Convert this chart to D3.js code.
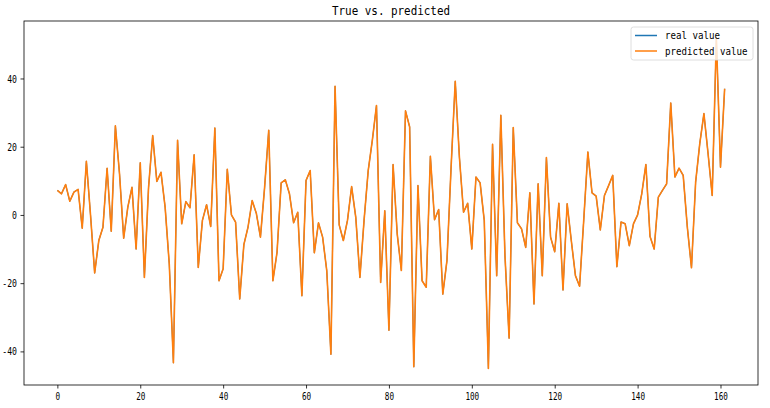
<!DOCTYPE html>
<html>
<head>
<meta charset="utf-8">
<script src="https://cdn.jsdelivr.net/npm/d3@7"></script>
<style>
body{margin:0;background:#fff;}
</style>
</head>
<body>
<div id="chart"></div>
<script>
// values, index 0..161
let readings = [
 7.2, 6.2, 8.9, 4.0, 6.7, 7.5, -3.9, 15.7, 0, -17,
 -7.5, -3.6, 13.7, -4.8, 26.1, 12, -6.8, 2.3, 8.1, -10,
 15.3, -18.3, 8, 23.3, 9.8, 12.5, 2.3, -14.4, -43.3, 21.9,
 -2.6, 3.9, 2.1, 17.6, -15.4, -1.6, 3.0, -3.4, 25.5, -19.3,
 -15.8, 13.4, 0, -2.1, -24.6, -8.7, -3.6, 4.2, 0.5, -6.5,
 8, 24.8, -19.3, -11, 9.4, 10.3, 6.2, -2.3, 0.8, -23.7,
 10.1, 13.0, -11.1, -2.3, -6.5, -16.3, -40.8, 37.7, -2.9, -7.5,
 -1.6, 8.3, -0.7, -18.3, -1.6, 13.0, 21.9, 32.1, -19.8, 1.2,
 -33.8, 14.8, -5.6, -16.3, 30.5, 25.8, -44.5, 8.6, -19.3, -21.2,
 17.2, -1.4, 1.6, -23.2, -13.4, 14, 39.2, 17, 0.8, 3.4,
 -10, 11.1, 9.4, -1.6, -45, 20.7, -17.8, 29.2, -12, -36.1,
 25.6, -2.3, -4.1, -9.5, 6.5, -26.1, 9.1, -17.8, 16.8, -6.5,
 -10.8, 3.4, -22, 3.3, -7.5, -17.8, -20.9, -1.6, 18.4, 6.5,
 5.5, -4.4, 5.7, 8.6, 11.6, -15.2, -2.1, -2.6, -9, -2.6,
 0, 6.2, 14.8, -6.3, -10, 5.2, 7.2, 9.1, 32.8, 11.1,
 13.7, 11.6, -3.6, -15.5, 9.6, 20.9, 29.7, 18, 5.7, 52,
 14, 37
];
// the blue line is hidden under the orange one, same readings
let seriesNames = ["real value", "predicted value"];
let seriesColors = ["#1f77b4", "#ff7f0e"];
let xTicks = [0, 20, 40, 60, 80, 100, 120, 140, 160];
let yTicks = [-40, -20, 0, 20, 40];
let title = "True vs. predicted";

const width = 770, height = 408;
const margin = {top: 21, right: 12, bottom: 23, left: 24};
const mono = "'DejaVu Sans Mono', monospace";

let svg = d3.select("#chart").append("svg")
    .attr("width", width)
    .attr("height", height);

// matplotlib style 5% padding on both axes
let n = readings.length;
let xpad = (n - 1) * 0.05;
let x = d3.scaleLinear()
    .domain([-xpad, n - 1 + xpad])
    .range([margin.left, width - margin.right]);
let ext = d3.extent(readings);
let ypad = (ext[1] - ext[0]) * 0.05;
let y = d3.scaleLinear()
    .domain([ext[0] - ypad, ext[1] + ypad])
    .range([height - margin.bottom, margin.top]);

let line = d3.line()
    .x((d, i) => x(i))
    .y(d => y(d));

let series = seriesNames.map((name, k) => ({name: name, color: seriesColors[k], values: readings}));

// blue drawn a bit thinner so no fringe shows round the orange
svg.append("g")
    .selectAll("path")
    .data(series)
    .join("path")
    .attr("fill", "none")
    .attr("stroke", d => d.color)
    .attr("stroke-width", (d, i) => i === 0 ? 1.1 : 1.6)
    .attr("stroke-linejoin", "round")
    .attr("d", d => line(d.values));

function styleAxis(g, charW) {
    g.select(".domain").remove();
    g.selectAll(".tick line").attr("stroke", "#000").attr("stroke-width", 0.8);
    g.selectAll(".tick text")
        .attr("fill", "#000")
        .style("font-family", mono)
        .style("font-size", "11px")
        .attr("textLength", function () { return this.textContent.length * charW; })
        .attr("lengthAdjust", "spacingAndGlyphs");
}

svg.append("g")
    .attr("transform", `translate(0,${height - margin.bottom})`)
    .call(d3.axisBottom(x).tickValues(xTicks).tickSize(3.5).tickPadding(3.5).tickFormat(d3.format("d")))
    .call(g => styleAxis(g, 4.6));

svg.append("g")
    .attr("transform", `translate(${margin.left},0)`)
    .call(d3.axisLeft(y).tickValues(yTicks).tickSize(3.5).tickPadding(3.5).tickFormat(d => String(d)))
    .call(g => styleAxis(g, 4.9));

// frame
svg.append("rect")
    .attr("x", margin.left)
    .attr("y", margin.top)
    .attr("width", width - margin.left - margin.right)
    .attr("height", height - margin.top - margin.bottom)
    .attr("fill", "none")
    .attr("stroke", "#000")
    .attr("stroke-width", 0.8);

svg.append("text")
    .attr("x", (margin.left + width - margin.right) / 2)
    .attr("y", 15)
    .attr("text-anchor", "middle")
    .style("font-family", mono)
    .style("font-size", "13px")
    .attr("textLength", 118)
    .attr("lengthAdjust", "spacingAndGlyphs")
    .text(title);

// legend
let lg = svg.append("g").attr("transform", "translate(631,27)");
lg.append("rect")
    .attr("width", 122).attr("height", 33)
    .attr("rx", 2.5)
    .attr("fill", "#fff").attr("fill-opacity", 0.8)
    .attr("stroke", "#d6d6d6").attr("stroke-width", 0.8);
let item = lg.selectAll("g.item")
    .data(series)
    .join("g")
    .attr("class", "item")
    .attr("transform", (d, i) => `translate(0,${8.5 + i * 15.5})`);
item.append("line")
    .attr("x1", 4).attr("x2", 26)
    .attr("stroke", d => d.color)
    .attr("stroke-width", 1.5);
item.append("text")
    .attr("x", 34)
    .attr("y", 3.8)
    .style("font-family", mono)
    .style("font-size", "11px")
    .attr("textLength", d => d.name.length * 5.5)
    .attr("lengthAdjust", "spacingAndGlyphs")
    .text(d => d.name);
</script>
</body>
</html>
